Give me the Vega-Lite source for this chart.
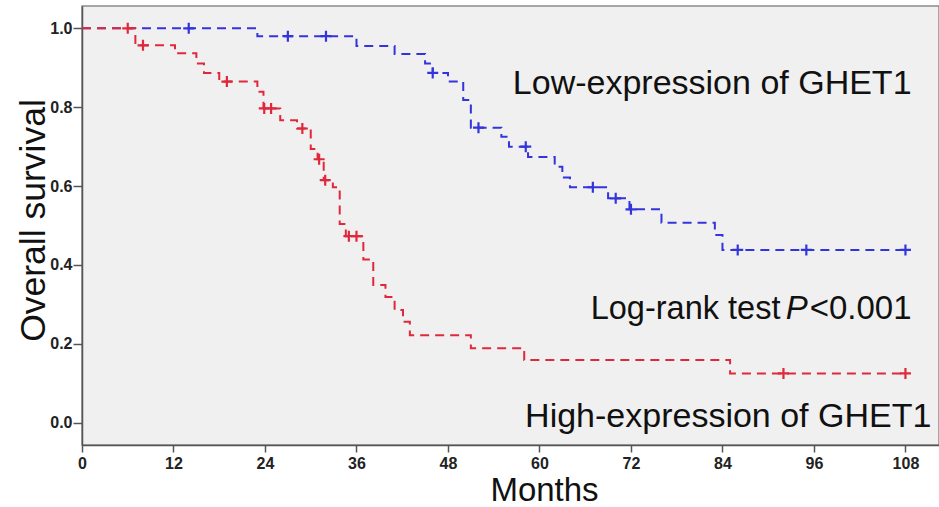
{
  "$schema": "https://vega.github.io/schema/vega-lite/v6.json",
  "width": 857,
  "height": 439,
  "autosize": {"type": "none"},
  "padding": {"left": 82, "top": 6, "right": 0, "bottom": 62},
  "background": "white",
  "config": {
    "view": {"fill": "#f0f0f0", "stroke": "#8a8a8a", "strokeWidth": 1.5},
    "font": "Liberation Sans"
  },
  "datasets": {
    "curves": [
      {"group": "Low", "month": 0, "surv": 1.0},
      {"group": "Low", "month": 23, "surv": 0.98},
      {"group": "Low", "month": 36, "surv": 0.955},
      {"group": "Low", "month": 41, "surv": 0.935},
      {"group": "Low", "month": 45, "surv": 0.911},
      {"group": "Low", "month": 46, "surv": 0.887},
      {"group": "Low", "month": 48, "surv": 0.865},
      {"group": "Low", "month": 50, "surv": 0.818},
      {"group": "Low", "month": 51, "surv": 0.748},
      {"group": "Low", "month": 55, "surv": 0.725},
      {"group": "Low", "month": 56, "surv": 0.7},
      {"group": "Low", "month": 58.5, "surv": 0.674},
      {"group": "Low", "month": 62, "surv": 0.649},
      {"group": "Low", "month": 63, "surv": 0.622},
      {"group": "Low", "month": 64, "surv": 0.597},
      {"group": "Low", "month": 69, "surv": 0.569},
      {"group": "Low", "month": 71.8, "surv": 0.541},
      {"group": "Low", "month": 76, "surv": 0.507},
      {"group": "Low", "month": 83, "surv": 0.476},
      {"group": "Low", "month": 84, "surv": 0.438},
      {"group": "Low", "month": 108, "surv": 0.438},
      {"group": "High", "month": 0, "surv": 1.0},
      {"group": "High", "month": 7, "surv": 0.957},
      {"group": "High", "month": 12.2, "surv": 0.937},
      {"group": "High", "month": 15, "surv": 0.911},
      {"group": "High", "month": 16, "surv": 0.887},
      {"group": "High", "month": 18, "surv": 0.865},
      {"group": "High", "month": 23, "surv": 0.839},
      {"group": "High", "month": 23.8, "surv": 0.797},
      {"group": "High", "month": 26, "surv": 0.767},
      {"group": "High", "month": 28.2, "surv": 0.746},
      {"group": "High", "month": 30, "surv": 0.694},
      {"group": "High", "month": 30.9, "surv": 0.668},
      {"group": "High", "month": 31.7, "surv": 0.615},
      {"group": "High", "month": 32.9, "surv": 0.597},
      {"group": "High", "month": 33.8, "surv": 0.504},
      {"group": "High", "month": 34.6, "surv": 0.473},
      {"group": "High", "month": 36.9, "surv": 0.414},
      {"group": "High", "month": 38.2, "surv": 0.349},
      {"group": "High", "month": 39.8, "surv": 0.319},
      {"group": "High", "month": 41, "surv": 0.286},
      {"group": "High", "month": 42.1, "surv": 0.256},
      {"group": "High", "month": 43, "surv": 0.222},
      {"group": "High", "month": 51, "surv": 0.189},
      {"group": "High", "month": 58, "surv": 0.159},
      {"group": "High", "month": 85, "surv": 0.125},
      {"group": "High", "month": 108, "surv": 0.125}
    ],
    "censor": [
      {"group": "Low", "month": 14, "surv": 1.0},
      {"group": "Low", "month": 27, "surv": 0.98},
      {"group": "Low", "month": 32, "surv": 0.98},
      {"group": "Low", "month": 46, "surv": 0.887},
      {"group": "Low", "month": 52, "surv": 0.748},
      {"group": "Low", "month": 58.2, "surv": 0.7},
      {"group": "Low", "month": 67, "surv": 0.597},
      {"group": "Low", "month": 70, "surv": 0.569},
      {"group": "Low", "month": 72, "surv": 0.541},
      {"group": "Low", "month": 86, "surv": 0.438},
      {"group": "Low", "month": 95, "surv": 0.438},
      {"group": "Low", "month": 108, "surv": 0.438},
      {"group": "High", "month": 6, "surv": 1.0},
      {"group": "High", "month": 8, "surv": 0.957},
      {"group": "High", "month": 19, "surv": 0.865},
      {"group": "High", "month": 23.9, "surv": 0.797},
      {"group": "High", "month": 24.8, "surv": 0.797},
      {"group": "High", "month": 28.9, "surv": 0.746},
      {"group": "High", "month": 31.1, "surv": 0.668},
      {"group": "High", "month": 31.9, "surv": 0.615},
      {"group": "High", "month": 35, "surv": 0.473},
      {"group": "High", "month": 36, "surv": 0.473},
      {"group": "High", "month": 92, "surv": 0.125},
      {"group": "High", "month": 108, "surv": 0.125}
    ]
  },
  "encoding": {
    "x": {
      "field": "month",
      "type": "quantitative",
      "scale": {"domain": [0, 112.4], "nice": false, "zero": false},
      "axis": {
        "values": [0, 12, 24, 36, 48, 60, 72, 84, 96, 108],
        "grid": false,
        "labelFontSize": 16,
        "labelFontWeight": "bold",
        "labelColor": "#222222",
        "labelFlush": false,
        "labelOverlap": false,
        "labelPadding": 3,
        "tickSize": 7,
        "tickColor": "#555555",
        "tickWidth": 1.5,
        "domainColor": "#555555",
        "domainWidth": 1.5,
        "title": "Months",
        "titleFontSize": 33,
        "titleFontWeight": "normal",
        "titleColor": "#111111",
        "titleX": 462,
        "titleY": 55,
        "titleBaseline": "alphabetic"
      }
    },
    "y": {
      "field": "surv",
      "type": "quantitative",
      "scale": {"domain": [-0.0565, 1.0566], "nice": false, "zero": false},
      "axis": {
        "values": [0, 0.2, 0.4, 0.6, 0.8, 1.0],
        "format": ".1f",
        "grid": false,
        "labelFontSize": 16,
        "labelFontWeight": "bold",
        "labelColor": "#222222",
        "labelFlush": false,
        "labelOverlap": false,
        "labelPadding": 1,
        "tickSize": 9,
        "tickColor": "#555555",
        "tickWidth": 1.5,
        "domainColor": "#555555",
        "domainWidth": 1.5,
        "title": "Overall survival",
        "titleFontSize": 35.5,
        "titleFontWeight": "normal",
        "titleColor": "#111111",
        "titleAngle": 270,
        "titleX": -38,
        "titleY": 214,
        "titleBaseline": "alphabetic"
      }
    }
  },
  "layer": [
    {
      "data": {"name": "curves"},
      "transform": [{"filter": "datum.group === 'Low'"}],
      "mark": {"type": "line", "interpolate": "step-after", "stroke": "#3434dc", "strokeWidth": 2, "strokeDash": [9, 6]}
    },
    {
      "data": {"name": "curves"},
      "transform": [{"filter": "datum.group === 'High'"}],
      "mark": {"type": "line", "interpolate": "step-after", "stroke": "#e0283c", "strokeWidth": 2, "strokeDash": [9, 6]}
    },
    {
      "data": {"name": "censor"},
      "transform": [{"filter": "datum.group === 'Low'"}],
      "mark": {"type": "point", "shape": "M-1,0L1,0M0,-1L0,1", "size": 121, "filled": false, "stroke": "#3434dc", "strokeWidth": 2.2, "opacity": 1}
    },
    {
      "data": {"name": "censor"},
      "transform": [{"filter": "datum.group === 'High'"}],
      "mark": {"type": "point", "shape": "M-1,0L1,0M0,-1L0,1", "size": 121, "filled": false, "stroke": "#e0283c", "strokeWidth": 2.2, "opacity": 1}
    },
    {
      "data": {"values": [{"month": 108.8, "surv": 0.833, "label": "Low-expression of GHET1"}]},
      "mark": {"type": "text", "align": "right", "baseline": "alphabetic", "fontSize": 34, "color": "#111111"},
      "encoding": {"text": {"field": "label"}}
    },
    {
      "data": {"values": [{"month": 91.6, "surv": 0.262, "label": "Log-rank test"}]},
      "mark": {"type": "text", "align": "right", "baseline": "alphabetic", "fontSize": 32.5, "color": "#111111"},
      "encoding": {"text": {"field": "label"}}
    },
    {
      "data": {"values": [{"month": 92.3, "surv": 0.262, "label": "P"}]},
      "mark": {"type": "text", "align": "left", "baseline": "alphabetic", "fontSize": 33, "fontStyle": "italic", "color": "#111111"},
      "encoding": {"text": {"field": "label"}}
    },
    {
      "data": {"values": [{"month": 108.8, "surv": 0.262, "label": "<0.001"}]},
      "mark": {"type": "text", "align": "right", "baseline": "alphabetic", "fontSize": 33, "color": "#111111"},
      "encoding": {"text": {"field": "label"}}
    },
    {
      "data": {"values": [{"month": 111.4, "surv": -0.01, "label": "High-expression of GHET1"}]},
      "mark": {"type": "text", "align": "right", "baseline": "alphabetic", "fontSize": 34, "color": "#111111"},
      "encoding": {"text": {"field": "label"}}
    }
  ]
}
